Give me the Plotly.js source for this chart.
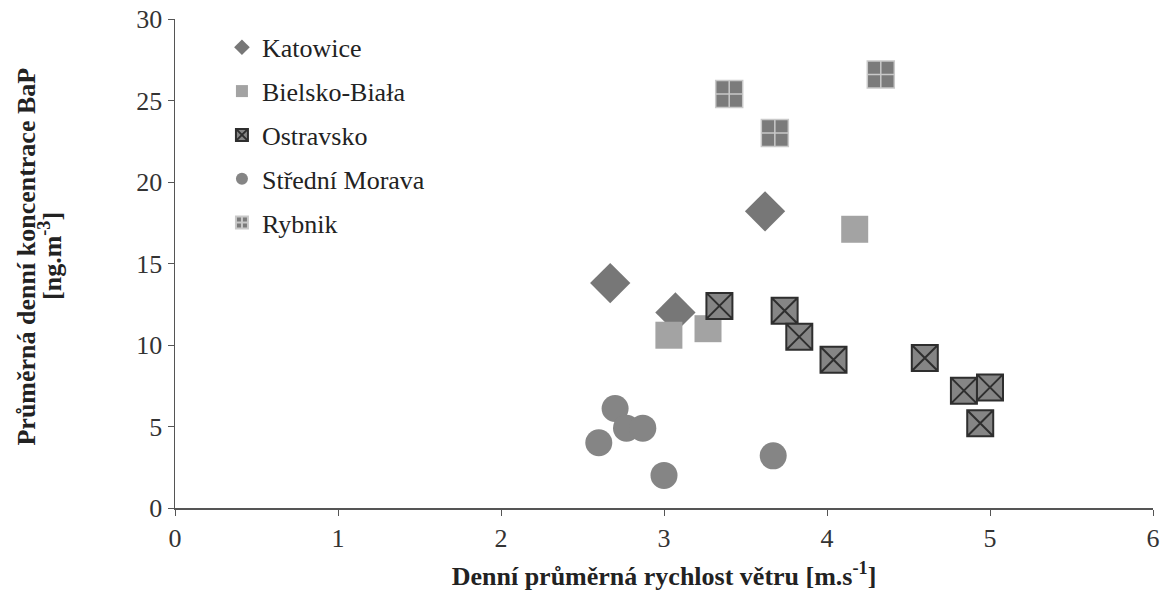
<!DOCTYPE html>
<html><head><meta charset="utf-8">
<script src="https://cdn.plot.ly/plotly-3.0.1.min.js"></script>
<style>html,body{margin:0;padding:0;background:#fff;}#chart{width:1166px;height:602px;}</style>
</head><body><div id="chart"></div>
<script>
const katowiceX = [2.67, 3.07, 3.62];
const katowiceY = [13.8, 12.0, 18.2];
const bielskoX = [3.03, 3.27, 4.17];
const bielskoY = [10.6, 11.0, 17.1];
const ostravskoX = [3.34, 3.74, 3.83, 4.04, 4.60, 4.84, 5.00, 4.94];
const ostravskoY = [12.4, 12.1, 10.5, 9.1, 9.2, 7.2, 7.4, 5.2];
const moravaX = [2.60, 2.70, 2.77, 2.87, 3.00, 3.67];
const moravaY = [4.0, 6.1, 4.9, 4.9, 2.0, 3.2];
const rybnikX = [3.40, 3.68, 4.33];
const rybnikY = [25.4, 23.0, 26.6];
const names = ['Katowice', 'Bielsko-Biała', 'Ostravsko', 'Střední Morava', 'Rybnik'];
const xTicks = [0, 1, 2, 3, 4, 5, 6];
const yTicks = [0, 5, 10, 15, 20, 25, 30];
const xTitle = 'Denní průměrná rychlost větru [m.s<sup>-1</sup>]';
const yTitleLines = ['Průměrná denní koncentrace BaP', '[ng.m<sup>-3</sup>]'];

const serif = '"Liberation Serif", "Times New Roman", serif';
const traces = [
  {x: katowiceX, y: katowiceY, name: names[0], legendgroup: 'a', mode: 'markers', type: 'scatter',
   marker: {symbol: 'diamond', size: 31, color: '#777777', line: {width: 0}}},
  {x: bielskoX, y: bielskoY, name: names[1], legendgroup: 'b', mode: 'markers', type: 'scatter',
   marker: {symbol: 'square', size: 27, color: '#a3a3a3', line: {width: 0}}},
  {x: ostravskoX, y: ostravskoY, name: names[2], legendgroup: 'c', mode: 'markers', type: 'scatter',
   marker: {symbol: 'square-x', size: 26, color: '#858585', line: {width: 2, color: '#2e2e2e'}}},
  {x: moravaX, y: moravaY, name: names[3], legendgroup: 'd', mode: 'markers', type: 'scatter',
   marker: {symbol: 'circle', size: 27, color: '#858585', line: {width: 0}}},
  {x: rybnikX, y: rybnikY, name: names[4], legendgroup: 'e', mode: 'markers', type: 'scatter',
   marker: {symbol: 'square-cross', size: 27, color: '#7b7b7b', line: {width: 1.5, color: '#c9c9c9'}}}
];

const titleFont = {family: serif, size: 26, color: '#222', weight: 'bold'};
const layout = {
  width: 1166, height: 602,
  margin: {l: 175, r: 13, t: 19, b: 94},
  paper_bgcolor: '#fff', plot_bgcolor: '#fff',
  font: {family: serif, size: 26, color: '#333'},
  showlegend: true,
  legend: {x: 0.048, y: 0.99, xanchor: 'left', yanchor: 'top', bgcolor: 'rgba(0,0,0,0)',
    font: {family: serif, size: 26, color: '#222'}, itemsizing: 'constant',
    traceorder: 'grouped', tracegroupgap: 7, itemwidth: 30},
  xaxis: {range: [0, 6], tickvals: xTicks, ticktext: xTicks.map(String), showgrid: false, zeroline: false,
    showline: true, linecolor: '#555', linewidth: 1.5, ticks: 'outside', ticklen: 6, tickcolor: '#555',
    tickfont: {family: serif, size: 26, color: '#333'},
    title: {text: xTitle, font: {family: serif, size: 26, color: '#222', weight: 'bold'}, standoff: 15}},
  yaxis: {range: [0, 30], tickvals: yTicks, ticktext: yTicks.map(String), showgrid: false, zeroline: false,
    showline: true, linecolor: '#555', linewidth: 1.5, ticks: 'outside', ticklen: 6, tickcolor: '#555',
    tickfont: {family: serif, size: 26, color: '#333'}},
  annotations: [
    {text: yTitleLines[0], xref: 'paper', yref: 'paper', x: -0.152, y: 0.515, xanchor: 'center', yanchor: 'middle',
     textangle: -90, showarrow: false, font: titleFont},
    {text: yTitleLines[1], xref: 'paper', yref: 'paper', x: -0.128, y: 0.515, xanchor: 'center', yanchor: 'middle',
     textangle: -90, showarrow: false, font: titleFont}
  ]
};
Plotly.newPlot('chart', traces, layout, {staticPlot: true, displayModeBar: false});
</script></body></html>
